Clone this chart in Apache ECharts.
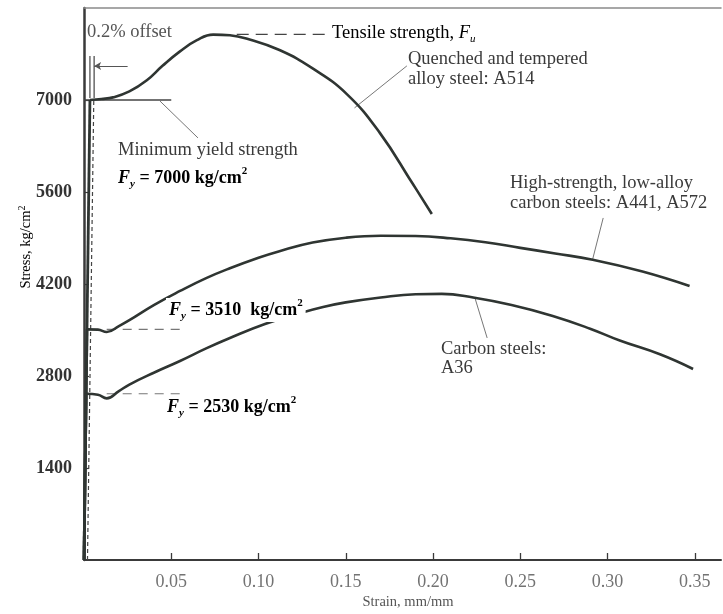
<!DOCTYPE html>
<html>
<head>
<meta charset="utf-8">
<script src="https://cdn.jsdelivr.net/npm/echarts@6/dist/echarts.min.js"></script>
<style>
html,body{margin:0;padding:0;background:#fff;}
#c{width:723px;height:614px;}
</style>
</head>
<body>
<div id="c"></div>
<script>
// ---- data (strain mm/mm, stress kg/cm2) ----
var strainA514 = [0, 0.0034, 0.01, 0.0166, 0.026, 0.036, 0.045, 0.055, 0.0647, 0.074, 0.0836, 0.093, 0.112, 0.131, 0.1506, 0.1695, 0.188, 0.1993];
var stressA514 = [0, 7000, 7015, 7040, 7130, 7300, 7520, 7740, 7910, 7995, 7985, 7935, 7760, 7480, 7090, 6500, 5740, 5266];

var strainA441 = [0, 0.0017, 0.008, 0.013, 0.02, 0.026, 0.04, 0.055, 0.07, 0.0836, 0.1, 0.112, 0.131, 0.15, 0.17, 0.19, 0.21, 0.23, 0.25, 0.27, 0.2915, 0.32, 0.347];
var stressA441 = [0, 3510, 3505, 3470, 3560, 3650, 3880, 4094, 4290, 4440, 4600, 4700, 4830, 4905, 4935, 4930, 4895, 4835, 4750, 4665, 4570, 4390, 4170];

var strainA36 = [0, 0.0012, 0.008, 0.013, 0.02, 0.026, 0.04, 0.055, 0.07, 0.0836, 0.1037, 0.1237, 0.137, 0.15, 0.17, 0.19, 0.205, 0.223, 0.245, 0.2686, 0.29, 0.307, 0.33, 0.349];
var stressA36 = [0, 2530, 2515, 2460, 2570, 2670, 2850, 3029, 3220, 3379, 3592, 3755, 3850, 3920, 3995, 4045, 4050, 3995, 3880, 3714, 3520, 3340, 3130, 2907];

var xTicks = [0.05, 0.10, 0.15, 0.20, 0.25, 0.30, 0.35];
var yTicks = [1400, 2800, 4200, 5600, 7000];

// annotation reference values
var yieldA514 = 7000, yieldA441 = 3510, yieldA36 = 2530, tensileA514 = 8000;

function pairs(xs, ys){ return xs.map(function(x,i){ return [x, ys[i]]; }); }

var curveColor = '#2f3532';
var thin = '#555';
var FONT = '"Liberation Serif", "DejaVu Serif", serif';
var ANN = 18.5;

var chart = echarts.init(document.getElementById('c'), null, {renderer:'canvas'});

// elastic part (straight) + plastic part (smooth)
function curve(name, xs, ys){
  var d = pairs(xs, ys);
  return [
    {name:name+' elastic', type:'line', data:d.slice(0,2), showSymbol:false, symbol:'none',
      lineStyle:{color:curveColor, width:2.8}, z:3, silent:true},
    {name:name, type:'line', data:d.slice(1), showSymbol:false, symbol:'none',
      smooth:0.45, lineStyle:{color:curveColor, width:2.6}, z:3, silent:true}
  ];
}
function seg(data, opts){
  opts = opts || {};
  return {type:'line', data:data, showSymbol:false, symbol:'none', clip:false, silent:true,
    lineStyle:{color:opts.color||thin, width:opts.width||1.2, type:opts.type||'solid'}, z:opts.z||2};
}

var richBase = function(size, weight, color){
  color = color || '#2e2e2e';
  return {
    n:{fontFamily:FONT, fontSize:size, fontWeight:weight, color:color, lineHeight:24},
    i:{fontFamily:FONT, fontSize:size, fontWeight:weight, fontStyle:'italic', color:color, lineHeight:24},
    s:{fontFamily:FONT, fontSize:Math.round(size*0.62), fontStyle:'italic', fontWeight:weight, color:color, lineHeight:11, verticalAlign:'bottom'},
    p:{fontFamily:FONT, fontSize:Math.round(size*0.62), fontWeight:weight, color:color, lineHeight:13, verticalAlign:'top'}
  };
};

function txt(x, y, text, size, weight, extra){
  var st = {text:text, x:0, y:0, fill:'#3a3a3a', font: (weight||'normal')+' '+size+'px '+FONT, verticalAlign:'middle', align:'left'};
  if (extra) for (var k in extra) st[k]=extra[k];
  return {type:'text', x:x, y:y, z:10, style:st, silent:true};
}
function rtxt(x, y, text, size, weight, bg, color){
  return {type:'text', x:x, y:y, z:10, silent:true,
    style:{text:text, rich:richBase(size, weight, color), verticalAlign:'middle', align:'left',
      backgroundColor: bg||'transparent', padding:[0,3,0,3]}};
}

var series = [].concat(
  curve('A514', strainA514, stressA514),
  curve('A441', strainA441, stressA441),
  curve('A36', strainA36, stressA36),
  [
    // 0.2% offset line
    seg([[0.002,0],[0.0056,yieldA514]], {type:[4,3], width:1.2, color:'#444'}),
    // minimum yield strength line
    seg([[0, yieldA514],[0.05, yieldA514]], {width:1.3, color:'#444'}),
    // yield dashes for lower curves
    seg([[0.013, yieldA441],[0.056, yieldA441]], {type:[9,7], width:1.2, color:'#777'}),
    seg([[0.013, yieldA36],[0.056, yieldA36]], {type:[9,7], width:1.2, color:'#777'}),
    // tensile strength dashes
    seg([[0.0875, tensileA514],[0.141, tensileA514]], {type:[12,7], width:1.3, color:'#444'}),
    // offset markers
    seg([[0.0034, 7032],[0.0034, 7670]], {width:1.2, color:'#444'}),
    seg([[0.0058, 7032],[0.0058, 7670]], {width:1.2, color:'#444'}),
    // leaders
    seg([[0.0435, 6985],[0.0653, 6423]], {width:1, color:'#777'}),
    seg([[0.155, 6880],[0.185, 7519]], {width:1, color:'#777'}),
    seg([[0.2975, 5205],[0.2915, 4581]], {width:1, color:'#777'}),
    seg([[0.224, 3988],[0.231, 3379]], {width:1, color:'#777'}),
    // arrows of 0.2% offset
    {type:'line', data:[], clip:false, silent:true,
      markLine:{silent:true, symbol:['none','arrow'], symbolSize:[6,7], label:{show:false},
        lineStyle:{color:'#555', width:1, type:'solid'}, emphasis:{disabled:true},
        data:[
          [{coord:[-0.0126, 7518]},{coord:[0.0034, 7518]}],
          [{coord:[0.025, 7518]},{coord:[0.0058, 7518]}]
        ]}}
  ]
);

var option = {
  animation:false,
  backgroundColor:'#ffffff',
  grid:{left:84, right:2, top:8, bottom:54, show:false},
  xAxis:[{
    type:'value', min:0, max:0.365,
    axisLine:{show:true, onZero:false, lineStyle:{color:'#3a3a3a', width:2}},
    axisTick:{show:true, inside:true, length:7, lineStyle:{color:'#3a3a3a', width:1.3},
      customValues: xTicks},
    axisLabel:{margin:13, fontFamily:FONT, fontSize:18, color:'#737373',
      customValues: xTicks,
      formatter:function(v){ return v.toFixed(2); }},
    splitLine:{show:false}
  },{
    type:'value', position:'top', min:0, max:0.365,
    axisLine:{show:true, onZero:false, lineStyle:{color:'#8a8a8a', width:1.5}},
    axisTick:{show:false}, axisLabel:{show:false}, splitLine:{show:false}
  }],
  yAxis:[{
    type:'value', min:0, max:8400,
    axisLine:{show:true, onZero:false, lineStyle:{color:'#3a3a3a', width:2.5}},
    axisTick:{show:true, inside:true, length:5, lineStyle:{color:'#3a3a3a', width:1.2},
      customValues: yTicks},
    axisLabel:{margin:12, fontFamily:FONT, fontSize:18, fontWeight:'bold', color:'#333',
      customValues: yTicks,
      formatter:function(v){ return String(v); }},
    splitLine:{show:false}
  }],
  series: series,
  graphic:[
    txt(87, 32, '0.2% offset', ANN, 'normal', {fill:'#555'}),
    rtxt(329, 33, '{n|Tensile strength, }{i|F}{s|u}', ANN, 'normal', null, '#3a3a3a'),
    txt(408, 59, 'Quenched and tempered', ANN, 'normal'),
    txt(408, 79, 'alloy steel: A514', ANN, 'normal'),
    txt(118, 150, 'Minimum yield strength', ANN, 'normal'),
    rtxt(115, 178, '{i|F}{s|y}{n| = 7000 kg/cm}{p|2}', 18, 'bold'),
    txt(510, 183, 'High-strength, low-alloy', ANN, 'normal'),
    txt(510, 203, 'carbon steels: A441, A572', ANN, 'normal'),
    rtxt(166, 310, '{i|F}{s|y}{n| = 3510  kg/cm}{p|2}', 18, 'bold', '#ffffff'),
    rtxt(164, 407, '{i|F}{s|y}{n| = 2530 kg/cm}{p|2}', 18, 'bold'),
    txt(441, 349, 'Carbon steels:', ANN, 'normal'),
    txt(441, 368, 'A36', ANN, 'normal'),
    txt(408, 602, 'Strain, mm/mm', 14.5, 'normal', {fill:'#555', align:'center'}),
    {type:'text', x:26, y:247, rotation:Math.PI/2, z:10, silent:true,
      style:{text:'{n|Stress, kg/cm}{p|2}', align:'center', verticalAlign:'middle',
        rich:{n:{fontFamily:FONT, fontSize:14.5, color:'#555', lineHeight:18},
              p:{fontFamily:FONT, fontSize:10, color:'#555', lineHeight:10, verticalAlign:'top'}}}}
  ]
};
chart.setOption(option);
</script>
</body>
</html>
